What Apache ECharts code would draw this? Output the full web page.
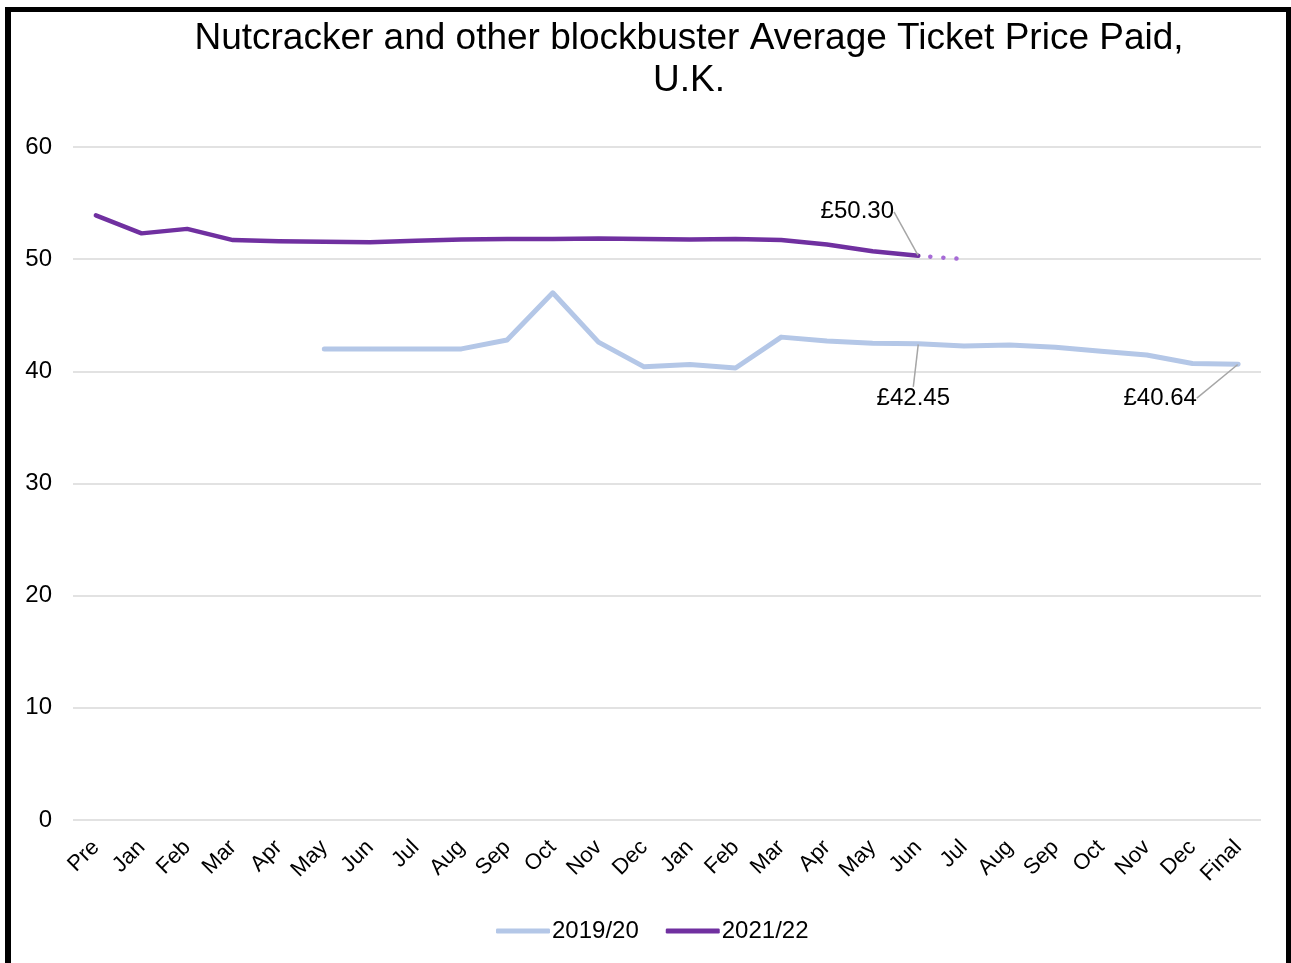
<!DOCTYPE html>
<html>
<head>
<meta charset="utf-8">
<script src="https://cdn.jsdelivr.net/npm/echarts@6/dist/echarts.min.js"></script>
<style>
  html, body { margin: 0; padding: 0; background: #fff; }
  #frame { position: absolute; left: 5px; top: 7px; width: 1275px; height: 970px; border: 5px solid #000; border-left-width: 6px; border-bottom: none; }
  #chart { position: absolute; left: 0; top: 0; width: 1291px; height: 963px; }
</style>
</head>
<body>
<div id="frame"></div>
<div id="chart"></div>
<script>
const categories = ['Pre', 'Jan', 'Feb', 'Mar', 'Apr', 'May', 'Jun', 'Jul', 'Aug', 'Sep', 'Oct', 'Nov', 'Dec',
  'Jan', 'Feb', 'Mar', 'Apr', 'May', 'Jun', 'Jul', 'Aug', 'Sep', 'Oct', 'Nov', 'Dec', 'Final']

const season1920 = [null, null, null, null, null, 42.0, 42.0, 42.0, 42.0, 42.8, 47.0, 42.6, 40.4,
  40.6, 40.3, 43.05, 42.7, 42.5, 42.45, 42.25, 42.35, 42.15, 41.8, 41.45, 40.7, 40.64]

const season2122 = [53.9, 52.3, 52.7, 51.7, 51.6, 51.55, 51.5, 51.65, 51.75, 51.8, 51.8, 51.85, 51.8,
  51.75, 51.8, 51.7, 51.3, 50.7, 50.30]

const projection2122 = [null, null, null, null, null, null, null, null, null, null, null, null, null,
  null, null, null, null, null, 50.30, 50.0]

// labelled points: [dataIndex, dx, dy]
const labels1920 = [[18, -5, 55], [25, -78, 34]]
const labels2122 = [[18, -61, -44]]

const font = '"Liberation Sans", Arial, sans-serif'

function withLabels(values, picks) {
  return values.map((v, i) => {
    const hit = picks.find((p) => p[0] === i)
    if (!hit || v == null) return v
    return {
      value: v,
      label: { show: true, position: 'inside', formatter: '£' + v.toFixed(2), fontFamily: font, fontSize: 24, color: '#000' },
      labelLine: { show: true },
    }
  })
}

function layoutFor(picks) {
  return (params) => {
    const hit = picks.find((p) => p[0] === params.dataIndex)
    if (!hit) return {}
    return { dx: hit[1], dy: hit[2] }
  }
}

const chart = echarts.init(document.getElementById('chart'), null, { renderer: 'canvas' })

chart.setOption({
  animation: false,
  title: {
    text: 'Nutcracker and other blockbuster Average Ticket Price Paid,\nU.K.',
    left: 684,
    textAlign: 'center',
    top: 13,
    textStyle: { fontFamily: font, fontSize: 37, fontWeight: 'normal', color: '#000', lineHeight: 42 },
  },
  legend: {
    top: 914,
    left: 491,
    itemWidth: 54,
    itemHeight: 5,
    itemGap: 27,
    icon: 'roundRect',
    textStyle: { fontFamily: font, fontSize: 24, color: '#000', padding: [0, 0, 0, -3] },
    data: ['2019/20', '2021/22'],
  },
  grid: { left: 73, right: 30, top: 147, bottom: 143, containLabel: false },
  xAxis: {
    type: 'category',
    data: categories,
    boundaryGap: true,
    axisLine: { show: false },
    axisTick: { show: false },
    axisLabel: {
      interval: 0,
      rotate: 45,
      margin: 24,
      fontFamily: font,
      fontSize: 22,
      color: '#000',
    },
  },
  yAxis: {
    type: 'value',
    min: 0,
    max: 60,
    interval: 10,
    axisLine: { show: false },
    axisTick: { show: false },
    axisLabel: { fontFamily: font, fontSize: 24, color: '#000', margin: 21 },
    splitLine: { lineStyle: { color: '#D9D9D9', width: 1.5 } },
  },
  series: [
    {
      name: '2019/20',
      type: 'line',
      data: withLabels(season1920, labels1920),
      symbol: 'circle',
      symbolSize: 1,
      showSymbol: true,
      color: '#B4C7E7',
      lineStyle: { color: '#B4C7E7', width: 5, cap: 'round', join: 'round' },
      label: { show: false },
      labelLine: { lineStyle: { color: '#A6A6A6', width: 1.5 } },
      labelLayout: layoutFor(labels1920),
      z: 2,
    },
    {
      name: '2021/22',
      type: 'line',
      data: withLabels(season2122, labels2122),
      symbol: 'circle',
      symbolSize: 1,
      showSymbol: true,
      color: '#7030A0',
      lineStyle: { color: '#7030A0', width: 4.5, cap: 'round', join: 'round' },
      label: { show: false },
      labelLine: { lineStyle: { color: '#A6A6A6', width: 1.5 } },
      labelLayout: layoutFor(labels2122),
      z: 3,
    },
    {
      name: 'projection',
      type: 'line',
      data: projection2122,
      symbol: 'none',
      lineStyle: { color: '#A66BD6', width: 4.5, type: [0.1, 13], cap: 'round', dashOffset: -12 },
      z: 2,
    },
  ],
})
</script>
</body>
</html>
